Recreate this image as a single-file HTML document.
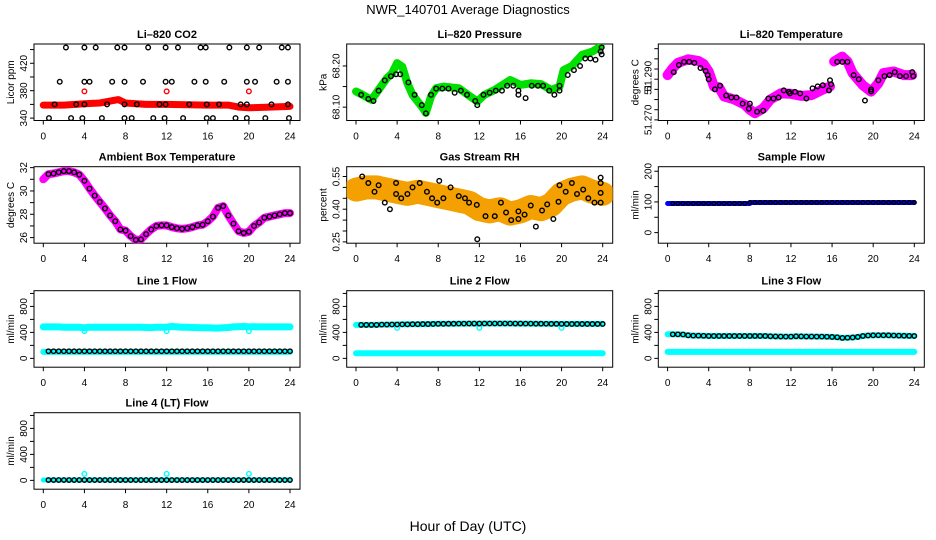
<!DOCTYPE html>
<html><head><meta charset="utf-8"><style>
html,body{margin:0;padding:0;background:#fff;}
svg{display:block;font-family:"Liberation Sans",sans-serif;}
</style></head><body>
<svg id="chart" width="936" height="540" viewBox="0 0 936 540">
<rect x="0" y="0" width="936" height="540" fill="#fff"/>
<text x="468" y="14" text-anchor="middle" font-size="13">NWR_140701  Average Diagnostics</text>
<text x="468" y="531" text-anchor="middle" font-size="14">Hour of Day (UTC)</text>
</svg>
<script>
// ---- data ----
const xTicks = [0,4,8,12,16,20,24];
// CO2
const co2BandHours = [0,2,4,5.5,7.3,8,10,12,16,18,19,20,22,24];
const co2BandVals = [359,359,361,362,367,362,360,360,359,359,356,355,356,357];
const co2RedHours = [4,12,20];
const co2RedVals = [379,379,379];
const co2PtHours = [2.2,4.0,5.1,7.2,7.9,10.2,11.9,13.1,15.3,15.8,18.1,19.8,21.0,23.2,23.8,
 1.6,4.0,4.5,6.7,7.9,9.7,11.9,12.5,14.7,15.8,17.6,19.8,20.6,22.7,23.8,
 1.1,3.2,4.0,6.2,7.9,9.1,11.3,11.9,14.2,15.9,17.1,19.2,19.8,22.2,23.8,
 0.55,2.7,3.8,5.7,7.9,8.6,10.7,11.8,13.6,15.9,16.5,18.7,19.8,21.6,23.9];
const co2PtVals = [443,443,443,443,443,443,443,443,443,443,443,443,443,443,443,
 393,393,393,393,393,393,393,393,393,393,393,393,393,393,393,
 360,360,360,360,360,360,360,360,360,360,360,360,360,360,360,
 340,340,340,340,340,340,340,340,340,340,340,340,340,340,340];
// Pressure
const presBandHours = [0,0.5,1.5,2,3,3.5,4,4.5,5,5.5,6.5,6.8,7.3,7.8,8.5,10,11.1,11.8,12.5,13.5,14.5,15,16,17,18,19,19.8,20.2,21,22,23,23.8];
const presBandVals = [68.138,68.132,68.118,68.135,68.17,68.182,68.207,68.198,68.158,68.13,68.098,68.086,68.126,68.146,68.15,68.146,68.126,68.114,68.13,68.142,68.158,68.166,68.154,68.158,68.156,68.142,68.15,68.19,68.2,68.227,68.235,68.247];
const presPtHours = [0.5,1.2,1.7,2.2,2.8,3.4,3.9,4.3,5.1,5.7,6.4,6.8,7.3,7.8,8.4,9,9.6,10.2,10.8,11.6,11.8,12.4,13,13.6,14.2,14.7,15.3,15.8,15.8,16.5,17.1,17.7,18.2,18.8,19.3,19.8,19.8,20.6,21.2,21.8,22.3,22.8,23.3,23.8,23.9,23.9];
const presPtVals = [68.13,68.12,68.115,68.14,68.165,68.175,68.18,68.18,68.16,68.13,68.105,68.085,68.13,68.145,68.145,68.145,68.135,68.14,68.13,68.115,68.105,68.13,68.135,68.14,68.14,68.152,68.152,68.14,68.13,68.122,68.152,68.152,68.152,68.14,68.13,68.152,68.14,68.178,68.19,68.2,68.218,68.218,68.215,68.235,68.245,68.228];
// Li-820 temperature
const tempBandHours = [0,0.5,1,2,3,3.5,4,4.5,5,5.5,6.5,7.5,8,8.5,9.3,10,11,12,13,14,15,15.8,null,16.2,17,17.5,18,19,19.8,20.5,21,22,23,23.8];
const tempBandVals = [51.292,51.2954,51.298,51.2998,51.299,51.2975,51.2938,51.2864,51.286,51.2815,51.28,51.2775,51.275,51.2733,51.2757,51.28,51.283,51.2828,51.2818,51.2822,51.2847,51.2864,null,51.2987,51.3011,51.2987,51.293,51.287,51.2839,51.288,51.293,51.2938,51.292,51.292];
const tempPtHours = [0.6,1.1,1.6,2.1,2.6,3.2,3.7,3.9,4.0,4.6,5.1,5.7,6.2,6.7,7.3,7.9,8.0,8.7,9.3,9.8,10.3,10.8,11.3,11.8,11.9,12.4,12.9,13.5,14.1,14.6,15.1,15.7,15.8,15.9,16.5,17.0,17.5,18.1,18.6,19.2,19.8,19.8,20.5,21.1,21.6,22.1,22.6,23.2,23.8,23.9];
const tempPtVals = [51.2935,51.297,51.2985,51.2985,51.298,51.2955,51.294,51.292,51.290,51.285,51.2868,51.282,51.281,51.281,51.278,51.2755,51.278,51.274,51.2745,51.2805,51.2805,51.281,51.2845,51.2838,51.283,51.2838,51.283,51.2805,51.2855,51.2865,51.287,51.2845,51.2895,51.2875,51.2985,51.2985,51.2985,51.292,51.29,51.2795,51.285,51.284,51.2895,51.2915,51.292,51.2935,51.2915,51.2915,51.2935,51.2915];
// Ambient box temperature (half-hourly)
const ambHours = [0,0.5,1,1.5,2,2.5,3,3.5,4,4.5,5,5.5,6,6.5,7,7.5,8,8.5,9,9.5,10,10.5,11,11.5,12,12.5,13,13.5,14,14.5,15,15.5,16,16.5,17,17.5,18,18.5,19,19.5,20,20.5,21,21.5,22,22.5,23,23.5,24];
const ambVals = [31.0,31.44,31.5,31.6,31.7,31.7,31.6,31.4,30.87,30.2,29.6,29.05,28.5,27.9,27.4,26.7,26.6,26.13,25.8,25.85,26.3,26.7,27.0,27.05,27.05,26.9,26.8,26.75,26.8,26.9,27.05,27.1,27.4,27.8,28.55,28.7,27.9,27.2,26.55,26.4,26.5,27.0,27.3,27.7,27.8,27.9,28.0,28.1,28.1];
// Gas stream RH
const rhBandHours = [0,1,2,3,4,5,6,7,8,9,10,11,12,13,14,15,16,17,18,19,20,21,22,23,24];
const rhBandVals = [0.49,0.50,0.50,0.49,0.48,0.47,0.48,0.47,0.46,0.45,0.44,0.43,0.40,0.39,0.40,0.38,0.39,0.41,0.40,0.42,0.47,0.49,0.50,0.48,0.47];
const rhPtHours = [0.6,1.2,1.8,2.2,2.8,3.3,3.9,3.9,4.4,5.0,5.5,6.2,6.9,7.4,7.9,8.1,8.5,9.2,10,10.6,11,11.75,11.8,12.6,13.5,14.1,14.6,15.1,15.8,15.8,16.4,17.0,17.5,18.1,18.6,19.2,19.7,19.8,20.4,21.0,21.5,22.1,22.6,23.2,23.8,23.8,23.8,23.8];
const rhPtVals = [0.55,0.52,0.48,0.51,0.43,0.40,0.52,0.47,0.45,0.47,0.50,0.52,0.48,0.45,0.43,0.53,0.45,0.50,0.46,0.45,0.43,0.42,0.262,0.368,0.368,0.43,0.385,0.35,0.39,0.355,0.375,0.417,0.32,0.394,0.422,0.355,0.434,0.51,0.48,0.52,0.47,0.49,0.45,0.43,0.545,0.52,0.475,0.43];
// Sample flow
const sampBandHours = [0,8,8.1,24];
const sampBandVals = [95,95,98,98];
// Line flows (half-hourly, 0.5..24)
const halfHours = [0.5,1,1.5,2,2.5,3,3.5,4,4.5,5,5.5,6,6.5,7,7.5,8,8.5,9,9.5,10,10.5,11,11.5,12,12.5,13,13.5,14,14.5,15,15.5,16,16.5,17,17.5,18,18.5,19,19.5,20,20.5,21,21.5,22,22.5,23,23.5,24];
const line1Black = [110,110,110,110,110,110,110,110,110,110,110,110,110,110,110,110,110,110,110,110,110,110,110,110,110,110,110,110,110,110,110,110,110,110,110,110,110,110,110,110,110,110,110,110,110,110,110,110];
const line1CyanHi = [485,485,485,480,480,480,478,470,480,480,478,478,478,480,480,478,478,478,478,476,474,478,478,480,490,485,480,478,476,474,472,470,468,466,470,476,484,488,490,484,488,485,484,484,484,484,484,484];
const line1CyanLo = [100,100,100,100,100,100,100,100,100,100,100,100,100,100,100,100,100,100,100,100,100,100,100,100,100,100,100,100,100,100,100,100,100,100,100,100,100,100,100,100,100,100,100,100,100,100,100,100];
const line1OutHours = [4,12,20];
const line1OutVals = [420,420,420];
const line2Black = [515,515,515,515,520,520,522,522,524,524,526,526,528,528,530,532,532,534,534,535,535,536,536,536,537,537,537,537,537,537,536,536,535,535,534,534,533,532,532,531,530,530,530,530,530,530,530,530];
const line2CyanLo = [80,80,80,80,80,80,80,80,80,80,80,80,80,80,80,80,80,80,80,80,80,80,80,80,80,80,80,80,80,80,80,80,80,80,80,80,80,80,80,80,80,80,80,80,80,80,80,80];
const line2OutHours = [4,12,20];
const line2OutVals = [470,470,470];
const line3Black = [370,370,368,355,350,350,348,345,345,345,345,345,345,345,345,345,345,345,345,340,338,336,335,335,340,338,336,336,335,335,333,330,325,315,318,322,330,345,352,355,356,355,355,352,350,348,346,345];
const line3CyanLo = [100,100,100,100,100,100,100,100,100,100,100,100,100,100,100,100,100,100,100,100,100,100,100,100,100,100,100,100,100,100,100,100,100,100,100,100,100,100,100,100,100,100,100,100,100,100,100,100];
const line4Black = [5,5,5,5,5,5,5,5,5,5,5,5,5,5,5,5,5,5,5,5,5,5,5,5,5,5,5,5,5,5,5,5,5,5,5,5,5,5,5,5,5,5,5,5,5,5,5,5];
const line4OutHours = [4,12,20];
const line4OutVals = [100,100,100];

// ---- layout ----
const NS = 'http://www.w3.org/2000/svg';
const svg = document.getElementById('chart');
const colLeft = [34, 346.7, 658.3];
const rowTop = [44, 166.7, 290.7, 412.7];
const BW = 266, BH = 76.5;

function mk(tag, attrs, parent) {
  const e = document.createElementNS(NS, tag);
  for (const k in attrs) e.setAttribute(k, attrs[k]);
  (parent || svg).appendChild(e);
  return e;
}

function panel(o) {
  const L = colLeft[o.col], T = rowTop[o.row], B = T + BH;
  const g = mk('g', {});
  
  
  const xAt = h => L + 9.3 + h * (246.7 / 24);
  const yAt = v => T + (o.hi - v) / (o.hi - o.lo) * BH;
  const box = mk('rect', {x: L, y: T, width: BW, height: BH, fill: 'none', stroke: '#000', 'stroke-width': 1}, g);
  
  
  const t = mk('text', {x: L + BW / 2, y: T - 6, 'text-anchor': 'middle', 'font-size': 11, 'font-weight': 'bold'}, g);
  t.textContent = o.title;
  
  
  // x axis
  xTicks.forEach(h => {
    mk('line', {x1: xAt(h), x2: xAt(h), y1: B, y2: B + 4, stroke: '#000'}, g);
    const tx = mk('text', {x: xAt(h), y: B + 19, 'text-anchor': 'middle', 'font-size': 10}, g);
    tx.textContent = h;
    
    
  });
  // y axis
  o.yTicks.forEach(v => {
    mk('line', {x1: L - 4, x2: L, y1: yAt(v), y2: yAt(v), stroke: '#000'}, g);
  });
  o.yLabelVals.forEach((v, i) => {
    const ty = mk('text', {x: 0, y: 0, 'text-anchor': 'middle', 'font-size': 10,
      transform: 'translate(' + (L - 7) + ',' + yAt(v) + ') rotate(-90)'}, g);
    ty.textContent = o.yLabels[i];
    
    
  });
  const yt = mk('text', {x: 0, y: 0, 'text-anchor': 'middle', 'font-size': 10,
    transform: 'translate(' + (L - 20) + ',' + (T + BH / 2) + ') rotate(-90)'}, g);
  yt.textContent = o.ylab;
  
  
  const clip = 'clip-' + o.name;
  const cp = mk('clipPath', {id: clip}, g);
  mk('rect', {x: L, y: T, width: BW, height: BH}, cp);
  const pg = mk('g', {'clip-path': 'url(#' + clip + ')'}, g);
  return {g: pg, xAt, yAt};
}

function band(p, hs, vs, color, w, name) {
  let segs = [[]];
  hs.forEach((h, i) => {
    if (h === null || vs[i] === null) { segs.push([]); return; }
    segs[segs.length - 1].push(p.xAt(h).toFixed(1) + ',' + p.yAt(vs[i]).toFixed(1));
  });
  segs.forEach(s => {
    if (!s.length) return;
    const pl = mk('polyline', {points: s.join(' '), fill: 'none', stroke: color, 'stroke-width': w, 'stroke-linejoin': 'round', 'stroke-linecap': 'round'}, p.g);
    
    
  });
}
function pts(p, hs, vs, color, name, r) {
  hs.forEach((h, i) => {
    const c = mk('circle', {cx: p.xAt(h), cy: p.yAt(vs[i]), r: r || 2.3, fill: 'none', stroke: color, 'stroke-width': 1.4}, p.g);
    
    
  });
}

// CO2
let p = panel({name: 'co2', col: 0, row: 0, title: 'Li\u2013820 CO2', ylab: 'Licor ppm', lo: 336.5, hi: 448.1,
  yTicks: [340,360,380,400,420,440], yLabelVals: [340,380,420], yLabels: ['340','380','420']});
band(p, co2BandHours, co2BandVals, '#ff0000', 7, 'co2-band');
pts(p, co2RedHours, co2RedVals, '#ff0000', 'co2-outlier');
pts(p, co2PtHours, co2PtVals, '#000', 'co2-point');

// Pressure
p = panel({name: 'pressure', col: 1, row: 0, title: 'Li\u2013820 Pressure', ylab: 'kPa', lo: 68.0676, hi: 68.2533,
  yTicks: [68.10,68.15,68.20], yLabelVals: [68.10,68.20], yLabels: ['68.10','68.20']});
band(p, presBandHours, presBandVals, '#00e000', 8, 'pressure-band');
pts(p, presPtHours, presPtVals, '#000', 'pressure-point');

// Li temp
p = panel({name: 'li-temp', col: 2, row: 0, title: 'Li\u2013820 Temperature', ylab: 'degrees C', lo: 51.2697, hi: 51.3073,
  yTicks: [51.270,51.275,51.280,51.285,51.290,51.295,51.300,51.305], yLabelVals: [51.270,51.285,51.2915], yLabels: ['51.270','51','51.290']});
band(p, tempBandHours, tempBandVals, '#ff00ff', 10, 'li-temp-band');
pts(p, tempPtHours, tempPtVals, '#000', 'li-temp-point');

// Ambient
p = panel({name: 'ambient', col: 0, row: 1, title: 'Ambient Box Temperature', ylab: 'degrees C', lo: 25.52, hi: 32.08,
  yTicks: [26,27,28,29,30,31,32], yLabelVals: [26,28,30,32], yLabels: ['26','28','30','32']});
band(p, ambHours, ambVals, '#ff00ff', 8, 'ambient-band');
pts(p, ambHours.slice(1), ambVals.slice(1), '#000', 'ambient-point');

// RH
p = panel({name: 'rh', col: 1, row: 1, title: 'Gas Stream RH', ylab: 'percent', lo: 0.244, hi: 0.595,
  yTicks: [0.25,0.30,0.35,0.40,0.45,0.50,0.55], yLabelVals: [0.25,0.40,0.55], yLabels: ['0.25','0.40','0.55']});
band(p, rhBandHours, rhBandVals, '#f4a000', 24, 'rh-band');
pts(p, rhPtHours, rhPtVals, '#000', 'rh-point');

// Sample flow
p = panel({name: 'sample-flow', col: 2, row: 1, title: 'Sample Flow', ylab: 'ml/min', lo: -34.5, hi: 214.8,
  yTicks: [0,50,100,150,200], yLabelVals: [0,100,200], yLabels: ['0','100','200']});
band(p, sampBandHours, sampBandVals, '#0000ff', 5, 'sample-flow-band');
pts(p, halfHours, halfHours.map((h, i) => h < 8 ? sampBandVals[0] : sampBandVals[3]), '#000', 'sample-flow-point', 1.8);

const fy = {yTicks: [0,200,400,600,800,1000], yLabelVals: [0,400,800], yLabels: ['0','400','800'], lo: -136, hi: 1042, ylab: 'ml/min'};
// Line 1
p = panel(Object.assign({name: 'line1', col: 0, row: 2, title: 'Line 1 Flow'}, fy));
band(p, [0].concat(halfHours), [line1CyanHi[0]].concat(line1CyanHi), '#00ffff', 7, 'line1-upper-band');
pts(p, line1OutHours, line1OutVals, '#00ffff', 'line1-outlier');
band(p, [0].concat(halfHours), [line1CyanLo[0]].concat(line1CyanLo), '#00ffff', 6, 'line1-lower-band');
pts(p, halfHours, line1Black, '#000', 'line1-point', 2.2);
// Line 2
p = panel(Object.assign({name: 'line2', col: 1, row: 2, title: 'Line 2 Flow'}, fy));
band(p, [0].concat(halfHours), [line2Black[0]].concat(line2Black), '#00ffff', 6, 'line2-upper-band');
pts(p, line2OutHours, line2OutVals, '#00ffff', 'line2-outlier');
band(p, [0].concat(halfHours), [line2CyanLo[0]].concat(line2CyanLo), '#00ffff', 6, 'line2-lower-band');
pts(p, halfHours, line2Black, '#000', 'line2-point', 2.2);
// Line 3
p = panel(Object.assign({name: 'line3', col: 2, row: 2, title: 'Line 3 Flow'}, fy));
band(p, [0].concat(halfHours), [line3Black[0]].concat(line3Black), '#00ffff', 6, 'line3-upper-band');
band(p, [0].concat(halfHours), [line3CyanLo[0]].concat(line3CyanLo), '#00ffff', 6, 'line3-lower-band');
pts(p, halfHours, line3Black, '#000', 'line3-point', 2.2);
// Line 4
p = panel(Object.assign({name: 'line4', col: 0, row: 3, title: 'Line 4 (LT) Flow'}, fy));
band(p, [0].concat(halfHours), [line4Black[0]].concat(line4Black), '#00ffff', 5, 'line4-band');
pts(p, line4OutHours, line4OutVals, '#00ffff', 'line4-outlier');
pts(p, halfHours, line4Black, '#000', 'line4-point', 2.2);
</script>
</body></html>
